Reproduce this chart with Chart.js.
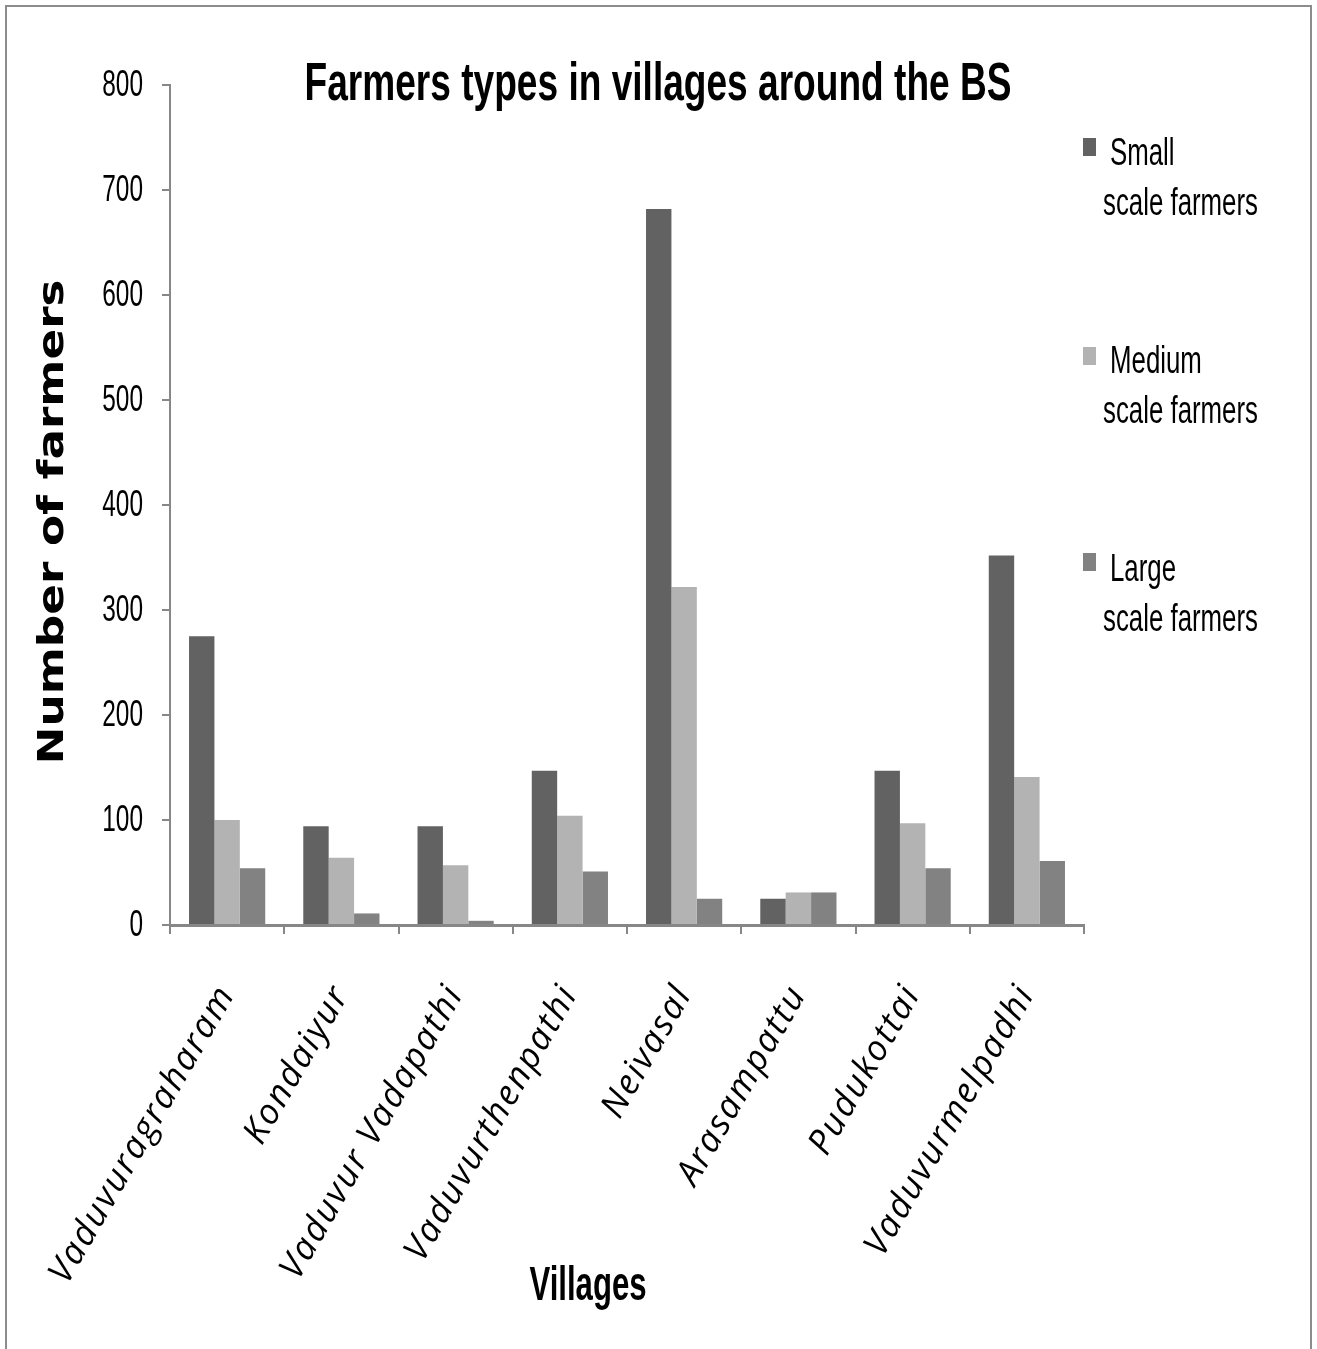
<!DOCTYPE html>
<html>
<head>
<meta charset="utf-8">
<title>Farmers types in villages around the BS</title>
<script src="https://cdn.jsdelivr.net/npm/chart.js@4/dist/chart.umd.min.js"></script>
<style>
  html, body { margin: 0; padding: 0; background: #ffffff; }
  canvas { display: block; }
</style>
</head>
<body>
<canvas id="chart" width="1317" height="1349"></canvas>
<script>
// Villages on the x axis
const villages = [
  'Vaduvuragraharam', 'Kondaiyur', 'Vaduvur Vadapathi', 'Vaduvurthenpathi',
  'Neivasal', 'Arasampattu', 'Pudukottai', 'Vaduvurmelpadhi'
];

// Number of farmers per village, by farm size
const smallFarmers  = [275, 94, 94, 147, 682, 25, 147, 352];
const mediumFarmers = [100, 64, 57, 104, 322, 31, 97, 141];
const largeFarmers  = [54, 11, 4, 51, 25, 31, 54, 61];

// Series names (legend) and colours
const seriesNames  = ['Small scale farmers', 'Medium scale farmers', 'Large scale farmers'];
const seriesColors = ['#626262', '#b3b3b3', '#828282'];

// Value axis ticks
const yTickValues = [0, 100, 200, 300, 400, 500, 600, 700, 800];

const chartTitle = 'Farmers types in villages around the BS';
const xTitle = 'Villages';
const yTitle = 'Number of farmers';

const AXIS_GREY = '#878787';
const NARROW = '"Liberation Sans Narrow", "Arial Narrow", "Liberation Sans", sans-serif';

// Draws text squeezed/stretched horizontally to a given width
function drawFitted(ctx, text, x, y, font, width, align, rotate) {
  ctx.save();
  ctx.font = font;
  const w = ctx.measureText(text).width;
  ctx.translate(x, y);
  if (rotate) ctx.rotate(rotate);
  ctx.scale(width / w, 1);
  ctx.textAlign = align;
  ctx.textBaseline = 'alphabetic';
  ctx.fillStyle = '#000000';
  ctx.fillText(text, 0, 0);
  ctx.restore();
}

// Draws text with a fixed horizontal squeeze factor
function drawSqueezed(ctx, text, x, y, font, sx, align, baseline) {
  ctx.save();
  ctx.font = font;
  ctx.translate(x, y);
  ctx.scale(sx, 1);
  ctx.textAlign = align;
  ctx.textBaseline = baseline || 'alphabetic';
  ctx.fillStyle = '#000000';
  ctx.fillText(text, 0, 0);
  ctx.restore();
}

const decorations = {
  id: 'decorations',
  beforeDraw(chart) {
    const ctx = chart.ctx;
    ctx.fillStyle = '#ffffff';
    ctx.fillRect(0, 0, chart.width, chart.height);
    // slightly spaced category labels on the x axis
    ctx.letterSpacing = '2px';
  },
  beforeDatasetsDraw(chart) {
    chart.ctx.letterSpacing = '0px';
  },
  afterDraw(chart) {
    const ctx = chart.ctx;
    ctx.letterSpacing = '0px';

    // outer frame
    ctx.save();
    ctx.strokeStyle = '#8c8c8c';
    ctx.lineWidth = 2;
    ctx.beginPath();
    ctx.moveTo(6, chart.height + 2);
    ctx.lineTo(6, 6);
    ctx.lineTo(1311, 6);
    ctx.lineTo(1311, chart.height + 2);
    ctx.stroke();
    ctx.restore();

    // value-axis labels, placed by the y scale
    const y = chart.scales.y;
    y.ticks.forEach(t => {
      drawSqueezed(ctx, String(t.value), 143, y.getPixelForValue(t.value) + 1,
        '37px "Liberation Sans", Arial, sans-serif', 0.66, 'right', 'middle');
    });

    // chart title
    drawFitted(ctx, chartTitle, 658, 100, 'bold 54px ' + NARROW, 707, 'center');

    // axis titles
    drawFitted(ctx, xTitle, 588, 1300, 'bold 48px ' + NARROW, 117, 'center');
    drawFitted(ctx, yTitle, 63, 522, 'bold 36px "DejaVu Sans", sans-serif', 485, 'center', -Math.PI / 2);

    // legend: coloured box plus label split over two lines
    const boxTops = [138, 347, 553];
    const firstBaselines = [165, 373, 581];
    const legendFont = '38px ' + NARROW;
    ctx.save();
    ctx.font = legendFont;
    const sx = 155 / ctx.measureText('scale farmers').width;
    ctx.restore();
    chart.data.datasets.forEach((ds, i) => {
      const words = ds.label.split(' ');
      ctx.save();
      ctx.fillStyle = ds.backgroundColor;
      ctx.fillRect(1083, boxTops[i], 13, 18);
      ctx.restore();
      drawSqueezed(ctx, words[0], 1110, firstBaselines[i], legendFont, sx, 'left');
      drawSqueezed(ctx, words.slice(1).join(' '), 1103, firstBaselines[i] + 50, legendFont, sx, 'left');
    });
  }
};

new Chart(document.getElementById('chart'), {
  type: 'bar',
  data: {
    labels: villages,
    datasets: [
      { label: seriesNames[0], data: smallFarmers,  backgroundColor: seriesColors[0] },
      { label: seriesNames[1], data: mediumFarmers, backgroundColor: seriesColors[1] },
      { label: seriesNames[2], data: largeFarmers,  backgroundColor: seriesColors[2] }
    ]
  },
  options: {
    responsive: false,
    animation: false,
    devicePixelRatio: 1,
    layout: { padding: { top: 85, right: 233, bottom: 0, left: 0 } },
    datasets: {
      bar: { categoryPercentage: 0.667, barPercentage: 1.0, borderWidth: 0 }
    },
    plugins: {
      legend: { display: false },
      title: { display: false },
      tooltip: { enabled: false }
    },
    scales: {
      x: {
        afterFit(scale) { scale.height = 424; },
        grid: {
          display: true,
          offset: true,
          drawOnChartArea: false,
          drawTicks: true,
          tickLength: 9,
          color: AXIS_GREY,
          lineWidth: 2
        },
        border: { display: true, color: AXIS_GREY, width: 3 },
        ticks: {
          autoSkip: false,
          maxRotation: 60,
          minRotation: 60,
          padding: 44,
          color: '#000000',
          font: { family: '"Open Sans", "Noto Sans", sans-serif', style: 'italic', size: 35 }
        }
      },
      y: {
        min: 0,
        max: 800,
        afterFit(scale) { scale.width = 170; },
        afterBuildTicks(scale) { scale.ticks = yTickValues.map(v => ({ value: v })); },
        grid: {
          display: true,
          drawOnChartArea: false,
          drawTicks: true,
          tickLength: 8,
          color: AXIS_GREY,
          lineWidth: 2
        },
        border: { display: true, color: AXIS_GREY, width: 2 },
        ticks: { display: false }
      }
    }
  },
  plugins: [decorations]
});
</script>
</body>
</html>
